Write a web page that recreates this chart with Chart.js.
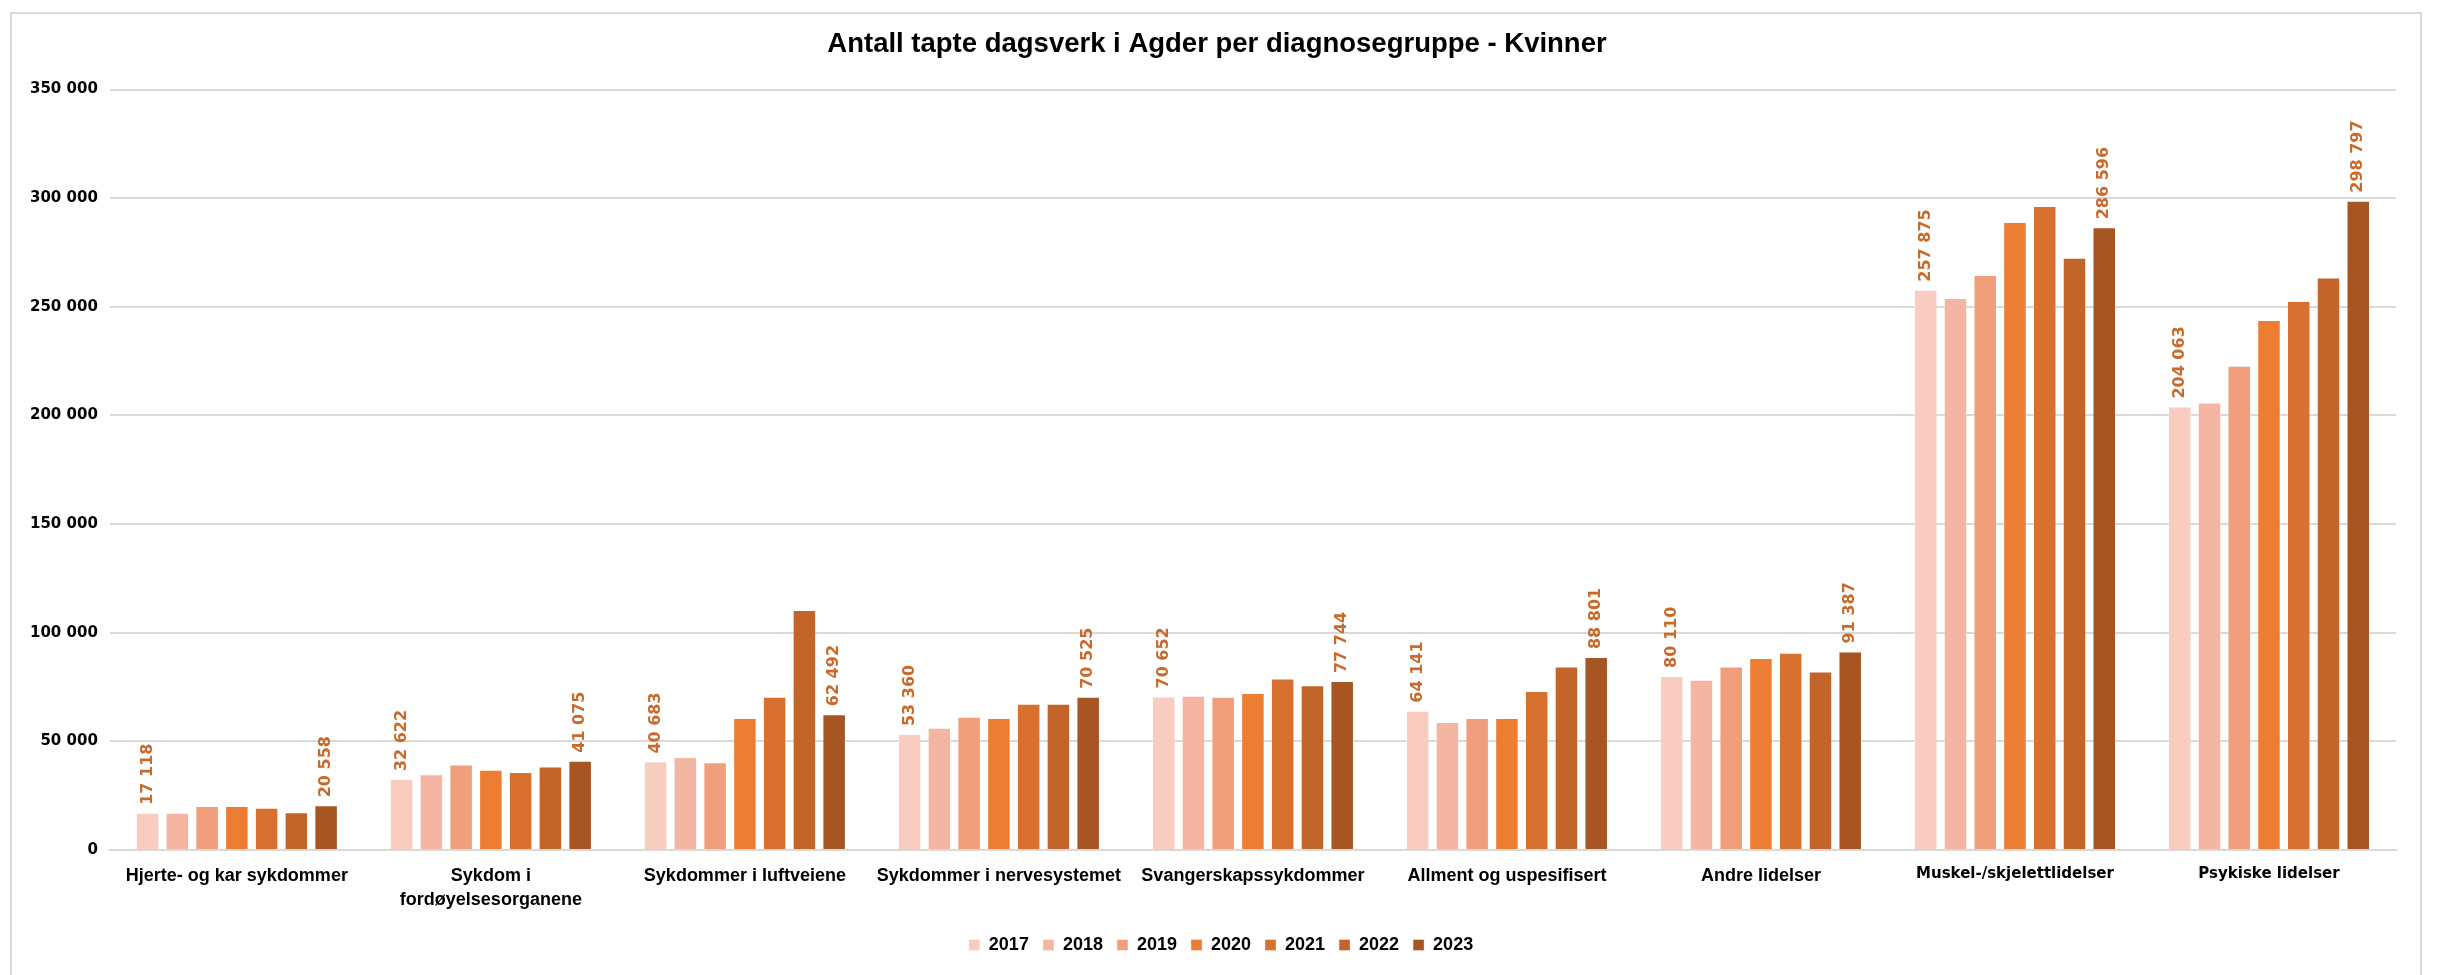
<!DOCTYPE html>
<html>
<head>
<meta charset="utf-8">
<script src="https://cdn.jsdelivr.net/npm/chart.js@4/dist/chart.umd.min.js"></script>
<style>
  body { margin: 0; background: #fff; }
  #wrap { position: relative; width: 2438px; height: 975px; }
</style>
</head>
<body>
<div id="wrap"><canvas id="DagsverkKvinner"></canvas></div>
<script>
// Antall tapte dagsverk i Agder per diagnosegruppe - Kvinner
const categories = [
    "Hjerte- og kar sykdommer",
    ["Sykdom i", "fordøyelsesorganene"],
    "Sykdommer i luftveiene",
    "Sykdommer i nervesystemet",
    "Svangerskapssykdommer",
    "Allment og uspesifisert",
    "Andre lidelser",
    "Muskel-/skjelettlidelser",
    "Psykiske lidelser"
];
const years = ["2017", "2018", "2019", "2020", "2021", "2022", "2023"];

const v2017 = [17118, 32622, 40683, 53360, 70652, 64141, 80110, 257875, 204063];
const v2018 = [17100, 34900, 42800, 56300, 71000, 58900, 78300, 254000, 205900];
const v2019 = [20300, 39300, 40400, 61300, 70500, 60700, 84400, 264600, 222900];
const v2020 = [20300, 36900, 60700, 60700, 72300, 60700, 88400, 289000, 243900];
const v2021 = [19400, 35900, 70500, 67300, 78900, 73200, 90800, 296400, 252700];
const v2022 = [17400, 38400, 110400, 67300, 75800, 84400, 82100, 272600, 263500];
const v2023 = [20558, 41075, 62492, 70525, 77744, 88801, 91387, 286596, 298797];

const yTicks = [0, 50000, 100000, 150000, 200000, 250000, 300000, 350000];

const colors = ['#F8CDC0', '#F4B6A2', '#F09E7B', '#ED7D33', '#D8712F', '#C3652A', '#A65523'];
const series = [v2017, v2018, v2019, v2020, v2021, v2022, v2023];

function fmt(v) {
    return String(v).replace(/\B(?=(\d{3})+(?!\d))/g, ' ');
}

// frame round the chart, and nudge title/legend to the picture's centre
const framePlugin = {
    id: 'frame',
    afterLayout(chart) {
        chart.titleBlock.left += 10;
        chart.titleBlock.right += 10;
        chart.legend.left += 14;
        chart.legend.right += 14;
    },
    beforeDraw(chart) {
        const c = chart.ctx;
        c.save();
        c.strokeStyle = '#D9D9D9';
        c.lineWidth = 2;
        c.strokeRect(11, 13, 2410, 1000);
        c.restore();
    }
};

// rotated value labels on first and last year
const valueLabels = {
    id: 'valueLabels',
    afterDatasetsDraw(chart) {
        const c = chart.ctx;
        c.save();
        c.fillStyle = '#C86A2C';
        c.font = 'bold 16px "DejaVu Sans"';
        c.textAlign = 'left';
        c.textBaseline = 'middle';
        [0, 6].forEach(di => {
            chart.getDatasetMeta(di).data.forEach((bar, i) => {
                c.save();
                c.translate(bar.x, bar.y - 8);
                c.rotate(-Math.PI / 2);
                c.fillText(fmt(chart.data.datasets[di].data[i]), 0, 0);
                c.restore();
            });
        });
        c.restore();
    }
};

new Chart("DagsverkKvinner", {
    type: "bar",
    data: {
        labels: categories,
        datasets: years.map((y, i) => ({
            label: y,
            data: series[i],
            backgroundColor: colors[i],
            borderColor: 'rgba(255,255,255,0.35)',
            borderWidth: 1,
            categoryPercentage: 0.82,
            barPercentage: 0.79
        }))
    },
    options: {
        responsive: true,
        maintainAspectRatio: false,
        animation: false,
        layout: {
            padding: { left: 18, right: 42, top: 0, bottom: 11 }
        },
        plugins: {
            title: {
                display: true,
                text: 'Antall tapte dagsverk i Agder per diagnosegruppe - Kvinner',
                color: '#000',
                font: { family: '"Liberation Sans"', weight: 'bold', size: 27.5 },
                padding: { top: 28, bottom: 28.5 }
            },
            legend: {
                display: true,
                position: 'bottom',
                labels: {
                    color: '#000',
                    boxWidth: 11,
                    boxHeight: 11,
                    padding: 14,
                    font: { family: '"Liberation Sans"', weight: 'bold', size: 18 }
                }
            },
            tooltip: { enabled: false }
        },
        scales: {
            x: {
                grid: { display: false, drawTicks: false },
                border: { display: true, color: '#D9D9D9', width: 2 },
                afterFit: (axis) => { axis.height = 72; },
                ticks: {
                    color: '#000',
                    padding: 14,
                    maxRotation: 0,
                    autoSkip: false,
                    font: (ctx) => ctx.index >= 7
                        ? { family: '"DejaVu Sans"', weight: 'bold', size: 15, lineHeight: 1.35 }
                        : { family: '"Liberation Sans"', weight: 'bold', size: 18, lineHeight: 1.35 }
                }
            },
            y: {
                min: 0,
                max: 350000,
                afterBuildTicks: (axis) => { axis.ticks = yTicks.map(v => ({ value: v })); },
                grid: { color: '#D9D9D9', lineWidth: 2, drawTicks: false },
                border: { display: false },
                ticks: {
                    color: '#000',
                    padding: 12,
                    font: { family: '"DejaVu Sans"', weight: 'bold', size: 15 },
                    callback: (v) => fmt(v)
                }
            }
        }
    },
    plugins: [framePlugin, valueLabels]
});
</script>
</body>
</html>
